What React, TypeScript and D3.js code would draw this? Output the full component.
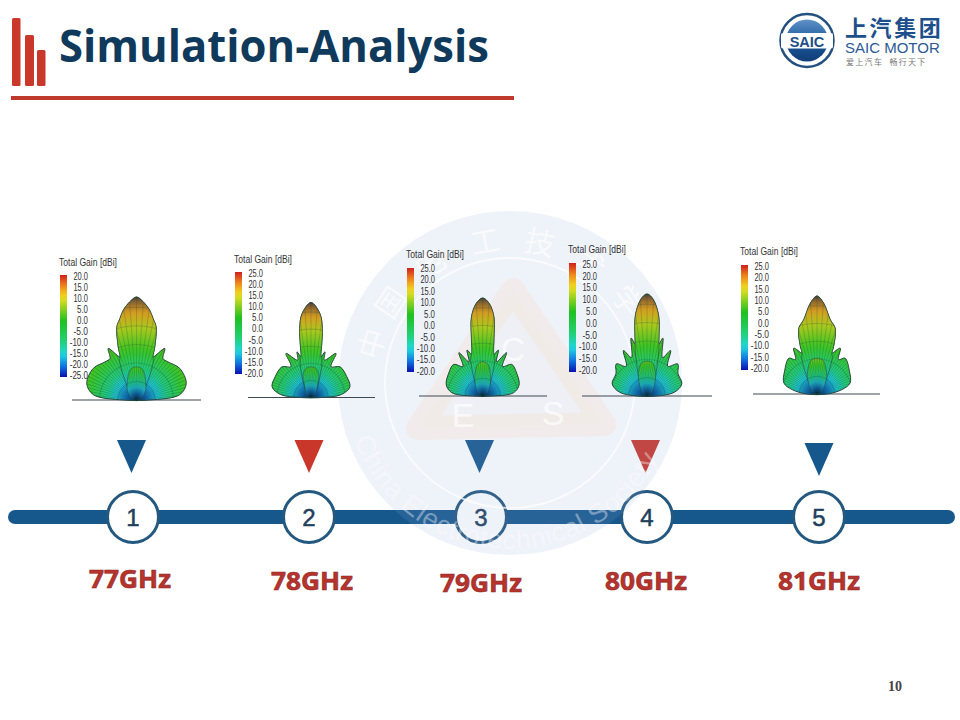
import React from "react";
import * as d3 from "d3";

const WIDTH = 960;
const HEIGHT = 720;

// chart values
const FREQUENCIES = ["77GHz", "78GHz", "79GHz", "80GHz", "81GHz"];
const STEPS = ["1", "2", "3", "4", "5"];
const MARKER_KINDS = ["blue", "red", "blue", "red", "blue"];
const LEGEND_RANGES = [
  [-25, 20],
  [-20, 25],
  [-20, 25],
  [-20, 25],
  [-20, 25],
];

// half patterns, mirrored about boresight: angle from vertical (deg), gain (dBi)
const LOBE_ANGLES = [
  [0, 3.9, 8.4, 11.5, 15, 19, 21, 28.7, 32.6, 39.6, 53.8, 71.6, 83, 90],
  [0, 6.1, 9.3, 11.5, 13.8, 17, 19.7, 29.6, 33, 43.4, 60, 74.7, 84.4, 90],
  [0, 4, 8.1, 11.1, 15, 18.8, 22, 28.8, 34, 42.5, 56, 73, 84, 90],
  [0, 3.5, 8.2, 11.5, 13, 15.3, 22, 27.4, 35, 43.8, 54, 70.6, 82, 90],
  [0, 4.2, 10.2, 15.5, 19.3, 20, 26.9, 32, 38, 55, 71.7, 80, 90],
];
const LOBE_GAINS = [
  [20, 18, 14.6, 11.3, 8.1, -0.5, -4.8, 0.7, -3.5, -3.4, -1.6, -2.1, -6, -19.2],
  [25, 19.9, 13.2, 5.3, -0.1, 2.6, -1.2, 4, -2.6, 0, -0.4, -0.9, -5.5, -15],
  [25, 22.6, 16.6, 6.8, -0.2, 2.3, -3.1, 2.7, -3.7, -0.3, -1.2, -2.5, -5.8, -15.4],
  [25, 22.9, 15.9, 6.5, 3.5, 6.5, -1.7, 2.6, -4, -0.4, -3.1, -3.7, -7.7, -15.6],
  [25, 21.8, 14.6, 11.3, 3, 0, 3.6, -1.4, 0.9, -1.8, -4, -8.4, -15.4],
];
// last angle of each pattern that still belongs to the main beam
const BEAM_EDGES = [21, 13.8, 15, 13, 20];

const BACK_ANGLES = [0, 10, 20, 29, 45, 80];
const BACK_GAINS = [
  [-10.5, -11.2, -14.1, -16.6, -19.5, -23],
  [-5.5, -6.1, -8.9, -14, -16.5, -18.4],
  [-4.3, -5.5, -9.6, -12.7, -16, -18.5],
  [-4.6, -5.3, -9, -12.7, -16.3, -18.5],
  [-3.5, -4.3, -7.8, -10.8, -15.4, -18.2],
];

const WATERMARK_CHARS = ["中", "国", "电", "工", "技", "术", "学", "会"];
const WATERMARK_ANGLES = [-74, -56, -34, -10, 12, 34, 55, 74];

// layout
const STEP_X = [133, 309, 481, 647, 819];
const MARKER_X = [131.5, 309, 479.5, 645.5, 819];
const MARKER_TOP = [440, 440, 440, 440, 443];
const LABEL_X = [130, 312, 481, 646, 819];
const LABEL_Y = [588, 590, 592, 590, 590];
const PATTERN_LAYOUT = [
  { x: 136.5, y: 400, h: 103, lineA: 72, lineB: 201, barX: 60, barTop: 275, barBottom: 377, titleX: 59, titleY: 266, labelX: 88, labelTop: 276, labelBottom: 375 },
  { x: 311, y: 397.5, h: 95, lineA: 248, lineB: 375, barX: 235, barTop: 272, barBottom: 374, titleX: 234, titleY: 263, labelX: 263, labelTop: 273, labelBottom: 373 },
  { x: 482.7, y: 396, h: 98, lineA: 419, lineB: 547, barX: 407, barTop: 268, barBottom: 372, titleX: 406, titleY: 258, labelX: 435, labelTop: 268, labelBottom: 371 },
  { x: 647, y: 396, h: 102, lineA: 582, lineB: 712, barX: 569, barTop: 263, barBottom: 372, titleX: 568, titleY: 253, labelX: 597, labelTop: 264, labelBottom: 370 },
  { x: 817, y: 394, h: 98, lineA: 753, lineB: 880, barX: 741, barTop: 265, barBottom: 370, titleX: 740, titleY: 255, labelX: 769, labelTop: 266, labelBottom: 368 },
];
const BAR_Y = 517;
const WM = { x: 510, y: 383, r: 172 };

const NARROW = "'Liberation Sans Narrow', 'Liberation Sans', sans-serif";
const BLUE = "#17588c";
const RED = "#c9372a";

const legendColor = d3
  .scaleLinear<string>()
  .domain([0, 0.1, 0.22, 0.36, 0.55, 0.78, 0.89, 1])
  .range(["#0a10b0", "#1070e0", "#20d8e0", "#20d070", "#20c020", "#f0e020", "#f08a1c", "#d0201c"]);

const shapeColor = d3
  .scaleLinear<string>()
  .domain([0, 0.1, 0.2, 0.3, 0.48, 0.7, 0.84, 0.93, 1])
  .range(["#14309c", "#1478d0", "#22c8d8", "#24cc80", "#38c424", "#a8c81e", "#d8a020", "#a0702c", "#4c4438"]);

const STOPS = d3.range(0, 1.0001, 0.05);

function mirror(angles: number[], gains: number[]) {
  const right = angles.map((a, i) => [a, gains[i]]);
  const left = right.filter((d) => d[0] > 0).map((d) => [-d[0], d[1]]).reverse();
  return [...left, ...right];
}

function Pattern({ index }: { index: number }) {
  const L = PATTERN_LAYOUT[index];
  const range = LEGEND_RANGES[index];
  const radius = d3.scaleLinear().domain(range).range([0, L.h]);
  const radial = d3
    .lineRadial<number[]>()
    .angle((d) => (d[0] * Math.PI) / 180)
    .radius((d) => radius(d[1]))
    .curve(d3.curveCatmullRomClosed.alpha(0.5));

  const angles = LOBE_ANGLES[index];
  const gains = LOBE_GAINS[index];
  const outline = mirror(angles, gains);
  const beamAngles = angles.filter((a) => a <= BEAM_EDGES[index]);
  const beam = mirror(
    [...beamAngles, BEAM_EDGES[index] + 3, 45],
    [...gains.slice(0, beamAngles.length), range[0] + 18, range[0] + 2]
  );
  const back = mirror(BACK_ANGLES, BACK_GAINS[index]);

  const spokes = d3.range(-88, 89, 4);
  const rings = d3.range(0.18, 1, 0.18);
  const id = `p${index}`;

  const legendTicks = d3.range(range[1], range[0] - 1, -5);
  const tickY = d3.scalePoint<number>().domain(legendTicks).range([L.labelTop, L.labelBottom]);

  const mesh = (width: number, opacity: number) => (
    <g stroke="#0c3a3a" strokeWidth={width} strokeOpacity={opacity} fill="none">
      {spokes.map((a) => (
        <line
          key={a}
          x1={0}
          y1={0}
          x2={Math.sin((a * Math.PI) / 180) * L.h * 1.1}
          y2={-Math.cos((a * Math.PI) / 180) * L.h * 1.1}
        />
      ))}
      {rings.map((t) => (
        <circle key={t} r={L.h * t} />
      ))}
    </g>
  );

  return (
    <g>
      <defs>
        <linearGradient id={`${id}-bar`} x1="0" y1="1" x2="0" y2="0">
          {STOPS.map((t) => (
            <stop key={t} offset={t} stopColor={legendColor(t)} />
          ))}
        </linearGradient>
        <radialGradient id={`${id}-shape`} gradientUnits="userSpaceOnUse" cx={0} cy={0} r={L.h}>
          {STOPS.map((t) => (
            <stop key={t} offset={t} stopColor={shapeColor(t)} />
          ))}
        </radialGradient>
        <radialGradient id={`${id}-back`} gradientUnits="userSpaceOnUse" cx={0} cy={0} r={L.h * 0.62}>
          {STOPS.map((t) => (
            <stop key={t} offset={t} stopColor={shapeColor(t)} />
          ))}
        </radialGradient>
        <clipPath id={`${id}-clip-all`}>
          <path d={radial(outline) || ""} />
        </clipPath>
        <clipPath id={`${id}-clip-beam`}>
          <path d={radial(beam) || ""} />
        </clipPath>
        <clipPath id={`${id}-clip-back`}>
          <path d={radial(back) || ""} />
        </clipPath>
      </defs>

      <text x={L.titleX} y={L.titleY} fontFamily={NARROW} fontSize={10.5} fill="#333" textLength={58} lengthAdjust="spacingAndGlyphs">
        Total Gain [dBi]
      </text>
      <rect x={L.barX} y={L.barTop} width={7} height={L.barBottom - L.barTop} fill={`url(#${id}-bar)`} />
      {legendTicks.map((v) => {
        const label = v.toFixed(1);
        return (
          <text
            key={v}
            x={L.labelX - label.length * 3.65}
            y={tickY(v)}
            dy="0.35em"
            fontFamily={NARROW}
            fontSize={11}
            fill="#333"
            textLength={label.length * 3.65}
            lengthAdjust="spacingAndGlyphs"
          >
            {label}
          </text>
        );
      })}

      <line x1={L.lineA} x2={L.lineB} y1={L.y} y2={L.y} stroke="#3e4852" strokeWidth={1.2} />

      <g transform={`translate(${L.x},${L.y})`}>
        <path d={radial(outline) || ""} fill={`url(#${id}-shape)`} />
        <g clipPath={`url(#${id}-clip-all)`}>{mesh(0.5, 0.5)}</g>
        <path d={radial(outline) || ""} fill="none" stroke="#24483e" strokeWidth={1} />

        <path d={radial(beam) || ""} fill={`url(#${id}-shape)`} />
        <g clipPath={`url(#${id}-clip-beam)`}>{mesh(0.5, 0.4)}</g>
        <path d={radial(beam) || ""} fill="none" stroke="#24483e" strokeWidth={0.8} strokeOpacity={0.75} />

        <path d={radial(back) || ""} fill={`url(#${id}-back)`} />
        <g clipPath={`url(#${id}-clip-back)`}>{mesh(0.5, 0.45)}</g>
        <path d={radial(back) || ""} fill="none" stroke="#24483e" strokeWidth={0.7} strokeOpacity={0.7} />
      </g>
    </g>
  );
}

function Watermark() {
  const tri = d3.line().curve(d3.curveLinearClosed);
  const arcR = 166;
  const sx = WM.x + arcR * Math.cos((200 * Math.PI) / 180);
  const sy = WM.y - arcR * Math.sin((200 * Math.PI) / 180);
  const ex = WM.x + arcR * Math.cos((-28 * Math.PI) / 180);
  const ey = WM.y - arcR * Math.sin((-28 * Math.PI) / 180);
  return (
    <g>
      <circle cx={WM.x} cy={WM.y} r={WM.r} fill="#8ea8d7" fillOpacity={0.15} />
      <path
        d={tri([[513, 290], [418, 428], [604, 424]]) || ""}
        fill="#ffd8b4"
        fillOpacity={0.04}
        stroke="#ffd8b4"
        strokeOpacity={0.2}
        strokeWidth={24}
        strokeLinejoin="round"
      />
      <circle cx={WM.x} cy={WM.y} r={125} fill="none" stroke="#fff" strokeOpacity={0.7} strokeWidth={2} />
      <g fill="#fff" fillOpacity={0.7} fontFamily="'Liberation Sans', sans-serif" fontSize={34} textAnchor="middle">
        <text x={513} y={361}>C</text>
        <text x={463} y={427}>E</text>
        <text x={553} y={425}>S</text>
      </g>
      <g fill="#fff" fillOpacity={0.65} fontFamily="'Noto Sans CJK SC', sans-serif" fontSize={30} textAnchor="middle">
        {WATERMARK_CHARS.map((c, i) => {
          const a = WATERMARK_ANGLES[i];
          const px = WM.x + Math.sin((a * Math.PI) / 180) * 143;
          const py = WM.y - Math.cos((a * Math.PI) / 180) * 143;
          return (
            <text key={c} transform={`translate(${px},${py}) rotate(${a})`} dy="0.35em">
              {c}
            </text>
          );
        })}
      </g>
      <path id="wm-lower" d={`M${sx},${sy} A${arcR},${arcR} 0 0 0 ${ex},${ey}`} fill="none" />
      <text fill="#fff" fillOpacity={0.38} fontFamily="'Liberation Sans', sans-serif" fontSize={27}>
        <textPath href="#wm-lower" textLength={385} lengthAdjust="spacing">
          China Electrotechnical Society
        </textPath>
      </text>
    </g>
  );
}

function Logo() {
  return (
    <g>
      <defs>
        <linearGradient id="globe" x1="0" y1="0" x2="0" y2="1">
          <stop offset="0" stopColor="#5f93c8" />
          <stop offset="0.5" stopColor="#1c5a9c" />
          <stop offset="1" stopColor="#103e78" />
        </linearGradient>
      </defs>
      <circle cx={807} cy={40.5} r={26.5} fill="#fff" stroke="#24507f" strokeWidth={2.5} />
      <circle cx={807} cy={40.5} r={21} fill="url(#globe)" />
      <rect x={781} y={33} width={52} height={15.5} rx={2} fill="#fff" />
      <text x={807} y={46.5} textAnchor="middle" fontFamily="'Liberation Sans', sans-serif" fontWeight={700} fontSize={14.5} fill="#1d4f86">
        SAIC
      </text>
      <text x={845} y={36} fontFamily="'Noto Sans CJK SC', sans-serif" fontWeight={700} fontSize={22} letterSpacing={2.6} fill="#1d4f8c">
        上汽集团
      </text>
      <text x={845} y={52.5} fontFamily="'Liberation Sans', sans-serif" fontSize={15} fill="#2c5a93">
        SAIC MOTOR
      </text>
      <text x={846} y={65} fontFamily="'Noto Sans CJK SC', sans-serif" fontSize={8} letterSpacing={1.3} fill="#7a7a7a" xmlSpace="preserve">
        爱上汽车  畅行天下
      </text>
    </g>
  );
}

export default function App() {
  const titleBars = [
    { x: 12, w: 8.5, top: 18 },
    { x: 25, w: 9, top: 35 },
    { x: 37, w: 8.5, top: 50 },
  ];
  return (
    <svg
      width={WIDTH}
      height={HEIGHT}
      viewBox={`0 0 ${WIDTH} ${HEIGHT}`}
      style={{ position: "absolute", left: 0, top: 0, background: "#fff" }}
    >
      {titleBars.map((b) => (
        <rect key={b.x} x={b.x} y={b.top} width={b.w} height={86 - b.top} rx={1.5} fill="#c9382b" />
      ))}
      <rect x={11} y={96} width={503} height={4} fill="#c0392f" />
      <text x={59} y={62} fontFamily="'Open Sans', sans-serif" fontWeight={700} fontSize={44} fill="#103a5c" textLength={430} lengthAdjust="spacingAndGlyphs">
        Simulation-Analysis
      </text>
      <Logo />

      <rect x={8} y={BAR_Y - 7} width={947} height={14} rx={7} fill={BLUE} />
      {FREQUENCIES.map((f, i) => {
        const mx = MARKER_X[i];
        const top = MARKER_TOP[i];
        const tri = d3.line()([[mx - 14.5, top], [mx + 14.5, top], [mx, top + 33]]);
        return (
          <g key={f}>
            <path d={`${tri}Z`} fill={MARKER_KINDS[i] === "red" ? RED : BLUE} />
            <circle cx={STEP_X[i]} cy={BAR_Y} r={25.5} fill="#fff" stroke="#24587f" strokeWidth={3} />
            <text x={STEP_X[i]} y={BAR_Y + 8.5} textAnchor="middle" fontFamily="'Liberation Sans', sans-serif" fontWeight={400} fontSize={24} stroke="#1f3f5c" strokeWidth={0.5} fill="#1f3f5c">
              {STEPS[i]}
            </text>
            <text x={LABEL_X[i]} y={LABEL_Y[i]} textAnchor="middle" fontFamily="'Open Sans', sans-serif" fontWeight={700} fontSize={25} fill="#b8332c" stroke="#8c2a2a" strokeWidth={0.6} textLength={82} lengthAdjust="spacingAndGlyphs">
              {f}
            </text>
          </g>
        );
      })}

      <Watermark />

      {FREQUENCIES.map((f, i) => (
        <Pattern key={f} index={i} />
      ))}

      <text x={888} y={691} fontFamily="'Liberation Serif', serif" fontSize={14} fontWeight={700} fill="#444">
        10
      </text>
    </svg>
  );
}
